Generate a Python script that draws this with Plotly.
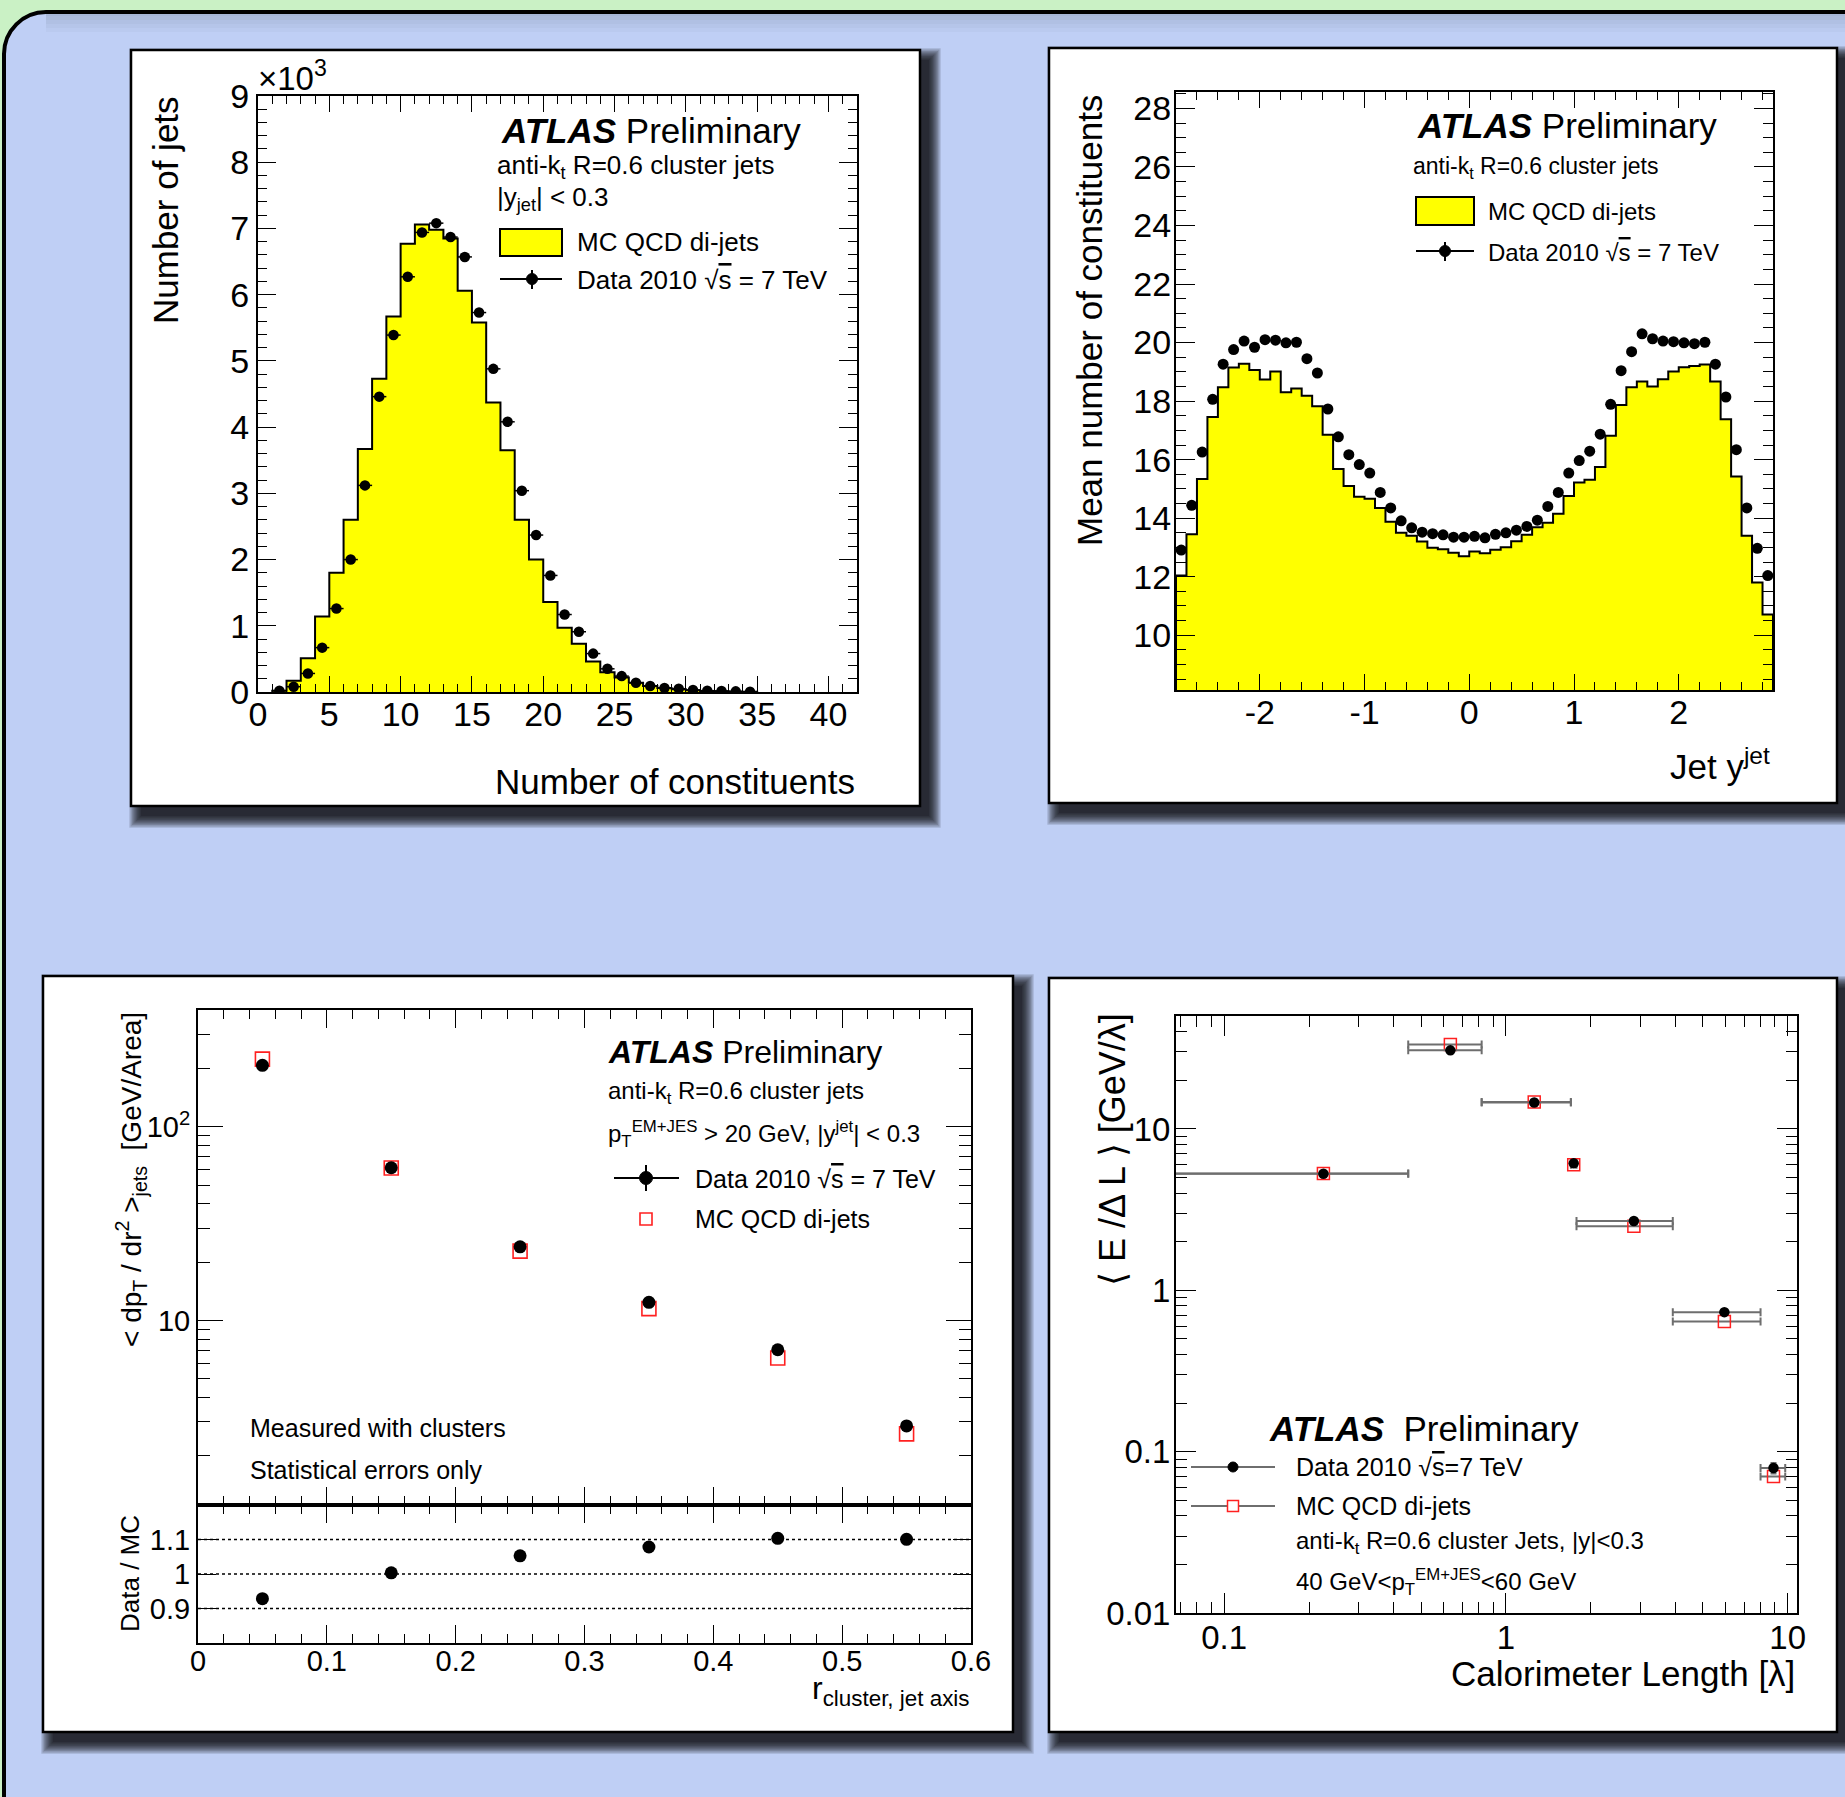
import numpy as np
import plotly.graph_objects as go

W, H = 1845, 1797
FONT = "Liberation Sans, Arial, Helvetica, sans-serif"


def px(x):
    return x / W


def py(y):
    return 1 - y / H


# ---------------- data ----------------
# (a) number of constituents per jet, |y_jet| < 0.3 (entries in units of 10^3)
nconst_bin_lo = list(range(1, 35))
nconst_mc = [0.02, 0.17, 0.51, 1.14, 1.80, 2.60, 3.67, 4.73, 5.67, 6.77, 7.06,
             6.98, 6.85, 6.06, 5.58, 4.37, 3.65, 2.60, 2.00, 1.36, 0.97, 0.73,
             0.46, 0.30, 0.22, 0.14, 0.09, 0.06, 0.04, 0.025, 0.015, 0.01,
             0.005, 0.003]
nconst_data = [0.02, 0.08, 0.28, 0.67, 1.26, 2.00, 3.12, 4.46, 5.39, 6.27, 6.94,
               7.08, 6.87, 6.57, 5.73, 4.88, 4.08, 3.04, 2.37, 1.76, 1.17, 0.91,
               0.58, 0.35, 0.24, 0.14, 0.09, 0.06, 0.05, 0.03, 0.02, 0.015,
               0.01, 0.005]

# (b) mean number of constituents vs jet rapidity (bins of 0.1 from -2.8 to 2.9)
rap_bin_lo = np.round(np.arange(-2.8, 2.85, 0.1), 2)
rap_bin_width = 0.1
rap_ticks = [-2, -1, 0, 1, 2]
rap_tick_text = ["-2", "-1", "0", "1", "2"]
meanconst_mc = [12.04, 13.45, 15.34, 17.46, 18.47, 19.15, 19.28, 19.06, 18.74,
                19.01, 18.30, 18.43, 18.18, 17.82, 16.85, 15.68, 15.10, 14.73,
                14.66, 14.35, 13.88, 13.50, 13.40, 13.20, 12.99, 12.94, 12.82,
                12.70, 12.86, 12.80, 12.92, 13.01, 13.21, 13.43, 13.69, 13.84,
                14.15, 14.76, 15.22, 15.31, 15.75, 16.82, 17.87, 18.47, 18.67,
                18.50, 18.75, 19.01, 19.16, 19.20, 19.25, 18.67, 17.38, 15.42,
                13.40, 11.80, 10.71]
meanconst_data = [12.91, 14.44, 16.26, 18.06, 19.26, 19.76, 20.05, 19.84, 20.10,
                  20.08, 19.99, 20.01, 19.45, 18.96, 17.73, 16.78, 16.17, 15.83,
                  15.54, 14.88, 14.35, 13.91, 13.67, 13.52, 13.47, 13.43, 13.35,
                  13.35, 13.38, 13.33, 13.45, 13.50, 13.59, 13.72, 13.93, 14.40,
                  14.88, 15.54, 15.97, 16.29, 16.87, 17.89, 19.04, 19.69, 20.30,
                  20.13, 20.05, 20.03, 19.99, 19.96, 20.01, 19.26, 18.14, 16.34,
                  14.35, 12.97, 12.04]

# (c) transverse momentum density vs distance from jet axis
r_centers = [0.05, 0.15, 0.25, 0.35, 0.45, 0.55]
density_data = [208.0, 61.5, 24.0, 12.4, 7.05, 2.85]
density_mc = [224.0, 61.3, 22.8, 11.5, 6.39, 2.59]
ratio_levels = [0.9, 1.0, 1.1]

# (d) energy per unit calorimeter depth
depth_edges = [0.0, 0.45, 0.82, 1.70, 1.78, 3.91, 8.01, 9.80]
edep_data = [5.28, 30.7, 14.6, 6.12, 2.69, 0.732, 0.0791]
edep_data_err = [0.05, 0.3, 0.15, 0.06, 0.03, 0.01, 0.006]
edep_mc = [5.30, 33.4, 14.7, 6.00, 2.49, 0.640, 0.0702]

# ---------------- colours ----------------
GREEN = "#CAF1C5"
BLUE = "#BFCFF5"
YELLOW = "#FFFF00"
RED = "#FF2020"
GREYBAR = "#6E6E6E"

# ---------------- plot-area boxes (pixels) ----------------
A = dict(x0=258, x1=857, y0=96, y1=692)
B = dict(x0=1176, x1=1773, y0=92, y1=690)
C = dict(x0=198, x1=971, y0=1010, y1=1505)
CR = dict(x0=198, x1=971, y0=1505, y1=1643)
D = dict(x0=1176, x1=1797, y0=1016, y1=1613)


def xdom(b):
    return [px(b["x0"]), px(b["x1"])]


def ydom(b):
    return [py(b["y1"]), py(b["y0"])]


def axis(dom, rng, anchor, size, tlen, mlen, dtick=None, mdtick=None,
         tick0=0, log=False, labels=True, tickvals=None, ticktext=None,
         standoff=0):
    ax = dict(domain=dom, range=rng, anchor=anchor, showgrid=False,
              zeroline=False, showline=True, linecolor="black", linewidth=2,
              mirror="ticks", ticks="inside", ticklen=tlen, tickwidth=1.3,
              tickcolor="black", showticklabels=labels, automargin=False,
              ticklabelstandoff=standoff,
              tickfont=dict(family=FONT, size=size, color="black"))
    if log:
        ax["type"] = "log"
    if tickvals is not None:
        ax["tickmode"] = "array"
        ax["tickvals"] = tickvals
        ax["ticktext"] = ticktext
    elif dtick is not None:
        ax["tickmode"] = "linear"
        ax["dtick"] = dtick
        ax["tick0"] = tick0
    if mdtick is not None:
        minor = dict(ticks="inside", ticklen=mlen, tickwidth=1.1,
                     tickcolor="black", showgrid=False, dtick=mdtick)
        if not log:
            minor["tick0"] = tick0
        ax["minor"] = minor
    return ax


fig = go.Figure()

# ---- (a) histogram + data ----
a_x = [nconst_bin_lo[0]] + nconst_bin_lo + [nconst_bin_lo[-1] + 1] * 2
a_y = [0] + nconst_mc + [nconst_mc[-1], 0]
fig.add_trace(go.Scatter(x=a_x, y=a_y, mode="lines", fill="tozeroy",
                         fillcolor=YELLOW,
                         line=dict(shape="hv", color="black", width=2),
                         xaxis="x", yaxis="y", hoverinfo="skip"))
fig.add_trace(go.Scatter(x=[v + 0.5 for v in nconst_bin_lo], y=nconst_data,
                         mode="markers",
                         marker=dict(color="black", size=10.5),
                         error_x=dict(type="constant", value=0.5, width=0,
                                      thickness=1.5, color="black"),
                         xaxis="x", yaxis="y"))

# ---- (b) histogram + data ----
b_lo = list(rap_bin_lo)
b_x = [b_lo[0]] + b_lo + [b_lo[-1] + rap_bin_width] * 2
b_y = [0] + meanconst_mc + [meanconst_mc[-1], 0]
fig.add_trace(go.Scatter(x=b_x, y=b_y, mode="lines", fill="tozeroy",
                         fillcolor=YELLOW,
                         line=dict(shape="hv", color="black", width=2),
                         xaxis="x2", yaxis="y2", hoverinfo="skip"))
fig.add_trace(go.Scatter(x=[v + rap_bin_width / 2 for v in b_lo],
                         y=meanconst_data, mode="markers",
                         marker=dict(color="black", size=11),
                         xaxis="x2", yaxis="y2"))

# ---- (c) density + ratio ----
fig.add_trace(go.Scatter(x=r_centers, y=density_mc, mode="markers",
                         marker=dict(symbol="square-open", color=RED, size=14,
                                     line=dict(width=1.6, color=RED)),
                         xaxis="x3", yaxis="y3"))
fig.add_trace(go.Scatter(x=r_centers, y=density_data, mode="markers",
                         marker=dict(color="black", size=13),
                         xaxis="x3", yaxis="y3"))
ratio = [d / m for d, m in zip(density_data, density_mc)]
fig.add_trace(go.Scatter(x=r_centers, y=ratio, mode="markers",
                         marker=dict(color="black", size=13),
                         xaxis="x4", yaxis="y4"))

# ---- (d) energy per depth ----
d_centers = [(lo + hi) / 2 for lo, hi in zip(depth_edges[:-1], depth_edges[1:])]
d_lo = [max(lo, 0.03) for lo in depth_edges[:-1]]
d_hi = depth_edges[1:]
d_plus = [hi - c for hi, c in zip(d_hi, d_centers)]
d_minus = [c - lo for lo, c in zip(d_lo, d_centers)]
xerr = dict(type="data", symmetric=False, array=d_plus, arrayminus=d_minus,
            color=GREYBAR, thickness=2, width=4)
fig.add_trace(go.Scatter(x=d_centers, y=edep_mc, mode="markers",
                         marker=dict(symbol="square-open", color=RED, size=12,
                                     line=dict(width=1.5, color=RED)),
                         error_x=xerr, xaxis="x5", yaxis="y5"))
fig.add_trace(go.Scatter(x=d_centers, y=edep_data, mode="markers",
                         marker=dict(color="black", size=10.5),
                         error_x=xerr,
                         error_y=dict(type="data", array=edep_data_err,
                                      color=GREYBAR, thickness=2, width=3),
                         xaxis="x5", yaxis="y5"))

# ---------------- axes ----------------
layout_axes = dict(
    xaxis=axis(xdom(A), [0, 42], "y", 34, 16, 8, dtick=5, mdtick=1,
               standoff=-9),
    yaxis=axis(ydom(A), [0, 9], "x", 34, 18, 9, dtick=1, mdtick=0.2),
    xaxis2=axis(xdom(B), [-2.8, 2.9], "y2", 34, 16, 8, mdtick=0.2,
                tickvals=rap_ticks, ticktext=rap_tick_text, standoff=-9),
    yaxis2=axis(ydom(B), [8.13, 28.56], "x2", 34, 19, 10, dtick=2, mdtick=0.5,
                standoff=-4),
    xaxis3=axis(xdom(C), [0, 0.6], "y3", 29, 18, 9, dtick=0.1, mdtick=0.02,
                labels=False),
    yaxis3=axis(ydom(C), [0.046, 2.604], "x3", 29, 25, 12, log=True,
                mdtick="D1", tickvals=[10, 100],
                ticktext=["10", "10<sup>2</sup>"]),
    xaxis4=axis(xdom(CR), [0, 0.6], "y4", 29, 18, 9, dtick=0.1, mdtick=0.02,
                standoff=-9),
    yaxis4=axis(ydom(CR), [0.8, 1.2], "x4", 29, 18, 9,
                tickvals=ratio_levels, ticktext=["0.9", "1", "1.1"]),
    xaxis5=axis(xdom(D), [-1.171, 1.033], "y5", 33, 20, 11, log=True,
                mdtick="D1", tickvals=[0.1, 1, 10],
                ticktext=["0.1", "1", "10"], standoff=-6),
    yaxis5=axis(ydom(D), [-2, 1.70], "x5", 33, 20, 11, log=True,
                mdtick="D1", tickvals=[0.01, 0.1, 1, 10],
                ticktext=["0.01", "0.1", "1", "10"], standoff=-3),
)

# ---------------- frame, panels, shadows ----------------
shapes = []


def rect(x0, y0, x1, y1, **kw):
    d = dict(type="rect", xref="paper", yref="paper", x0=px(x0), x1=px(x1),
             y0=py(y1), y1=py(y0))
    d.update(kw)
    return d


def line(x0, y0, x1, y1, **kw):
    d = dict(type="line", xref="paper", yref="paper", x0=px(x0), x1=px(x1),
             y0=py(y0), y1=py(y1))
    d.update(kw)
    return d


# rounded blue backdrop
k = 0.5523
bx, by, r = 4, 12, 42
pts = [
    f"M {px(bx)},{py(by + r)}",
    f"C {px(bx)},{py(by + r * (1 - k))} {px(bx + r * (1 - k))},{py(by)} {px(bx + r)},{py(by)}",
    f"L {px(1900)},{py(by)}",
    f"L {px(1900)},{py(1900)}",
    f"L {px(bx)},{py(1900)}",
    "Z",
]
shapes.append(dict(type="path", xref="paper", yref="paper", path=" ".join(pts),
                   fillcolor=BLUE, line=dict(color="black", width=4),
                   layer="below"))
# soft shade under the top border
for i in range(5):
    shapes.append(rect(bx + r, by + 2, 1900, by + 4 + 4 * i, fillcolor="black",
                       opacity=0.025, line=dict(width=0), layer="below"))

# drop shadows (offset down-right, blurred by stacking) and white pads
boxes = [(131, 50, 920, 806), (1049, 48, 1837, 803),
         (43, 976, 1013, 1732), (1049, 978, 1837, 1732)]
for (x0, y0, x1, y1) in boxes:
    for i in range(10):
        e = 1.3 * i
        shapes.append(rect(x0 + 10 - e, y0 + 10 - e, x1 + 9 + e, y1 + 10 + e,
                           fillcolor="black", opacity=0.14,
                           line=dict(width=0), layer="below"))
for (x0, y0, x1, y1) in boxes:
    shapes.append(rect(x0, y0, x1, y1, fillcolor="white",
                       line=dict(color="black", width=2.5), layer="below"))

# dotted reference lines in the ratio pad
for lvl in ratio_levels:
    shapes.append(dict(type="line", xref="x4 domain", yref="y4", x0=0, x1=1,
                       y0=lvl, y1=lvl, line=dict(color="black", width=1.6,
                                                 dash="dot"),
                       layer="below"))


def circle(cx, cy, rad, color="black"):
    return dict(type="circle", xref="paper", yref="paper",
                x0=px(cx - rad), x1=px(cx + rad), y0=py(cy + rad),
                y1=py(cy - rad), fillcolor=color, line=dict(color=color, width=1))


# legend symbols (a)
shapes.append(rect(500, 229, 562, 256, fillcolor=YELLOW,
                   line=dict(color="black", width=2)))
shapes.append(line(500, 279, 562, 279, line=dict(color="black", width=2)))
shapes.append(line(532, 270, 532, 289, line=dict(color="black", width=2)))
shapes.append(circle(532, 279, 5.5))
# legend symbols (b)
shapes.append(rect(1416, 197, 1474, 225, fillcolor=YELLOW,
                   line=dict(color="black", width=2)))
shapes.append(line(1416, 251, 1474, 251, line=dict(color="black", width=2)))
shapes.append(line(1445, 242, 1445, 261, line=dict(color="black", width=2)))
shapes.append(circle(1445, 251, 5.5))
# legend symbols (c)
shapes.append(line(614, 1178, 679, 1178, line=dict(color="black", width=2)))
shapes.append(line(646, 1165, 646, 1191, line=dict(color="black", width=2)))
shapes.append(circle(646, 1178, 6.5))
shapes.append(rect(640, 1213, 652, 1225, line=dict(color=RED, width=1.6)))
# legend symbols (d)
shapes.append(line(1191, 1467, 1275, 1467, line=dict(color=GREYBAR, width=2)))
shapes.append(circle(1233, 1467, 5))
shapes.append(line(1191, 1506, 1275, 1506, line=dict(color=GREYBAR, width=2)))
shapes.append(rect(1227.5, 1500.5, 1238.5, 1511.5, fillcolor="white",
                   line=dict(color=RED, width=1.5)))

# ---------------- text ----------------
annotations = []


def text(t, x, y, size, xanchor="left", angle=0):
    annotations.append(dict(text=t, x=px(x), y=py(y), xref="paper",
                            yref="paper", xanchor=xanchor, yanchor="middle",
                            showarrow=False, textangle=angle,
                            font=dict(family=FONT, size=size, color="black")))


SQRTS = "\u221a<span style='text-decoration:overline'>s</span>"

# (a)
text("\u00d710<sup>3</sup>", 256, 76, 33)
text("<b><i>ATLAS</i></b> Preliminary", 499, 130, 35)
text("anti-k<sub>t</sub> R=0.6 cluster jets", 495, 166, 26)
text("|y<sub>jet</sub>| &lt; 0.3", 495, 198, 26)
text("MC QCD di-jets", 575, 242, 26)
text(f"Data 2010 {SQRTS} = 7 TeV", 575, 280, 26)
text("Number of constituents", 857, 781, 35, xanchor="right")
text("Number of jets", 166, 210, 35, xanchor="center", angle=-90)

# (b)
text("<b><i>ATLAS</i></b> Preliminary", 1415, 126, 35)
text("anti-k<sub>t</sub> R=0.6 cluster jets", 1411, 168, 23)
text("MC QCD di-jets", 1486, 211, 24)
text(f"Data 2010 {SQRTS} = 7 TeV", 1486, 252, 24)
text("Mean number of constituents", 1090, 321, 35, xanchor="center", angle=-90)
text("Jet y<sup>jet</sup>", 1772, 764, 35, xanchor="right")

# (c)
text("<b><i>ATLAS</i></b> Preliminary", 606, 1052, 32)
text("anti-k<sub>t</sub> R=0.6 cluster jets", 606, 1092, 24)
text("p<sub>T</sub><sup>EM+JES</sup> &gt; 20 GeV, |y<sup>jet</sup>| &lt; 0.3",
     606, 1134, 24)
text(f"Data 2010 {SQRTS} = 7 TeV", 693, 1179, 25)
text("MC QCD di-jets", 693, 1219, 25)
text("Measured with clusters", 248, 1428, 25)
text("Statistical errors only", 248, 1470, 25)
text("&lt; dp<sub>T</sub> / dr<sup>2</sup> &gt;<sub>jets</sub>  [GeV/Area]",
     131, 1180, 28, xanchor="center", angle=-90)
text("Data / MC", 130, 1574, 26, xanchor="center", angle=-90)
text("r<sub>cluster, jet axis</sub>", 972, 1690, 32, xanchor="right")

# (d)
text("<b><i>ATLAS</i></b>  Preliminary", 1267, 1428, 35)
text(f"Data 2010 {SQRTS}=7 TeV", 1294, 1467, 25)
text("MC QCD di-jets", 1294, 1506, 25)
text("anti-k<sub>t</sub> R=0.6 cluster Jets, |y|&lt;0.3", 1294, 1542, 24)
text("40 GeV&lt;p<sub>T</sub><sup>EM+JES</sup>&lt;60 GeV", 1294, 1582, 24)
text("\u27e8 E /\u0394 L \u27e9 [GeV/\u03bb]", 1112, 1150, 36, xanchor="center",
     angle=-90)
text("Calorimeter Length [\u03bb]", 1797, 1673, 35, xanchor="right")

fig.update_layout(
    width=W, height=H,
    margin=dict(l=0, r=0, t=0, b=0, pad=0, autoexpand=False),
    paper_bgcolor=GREEN, plot_bgcolor="white", showlegend=False,
    font=dict(family=FONT, color="black"),
    shapes=shapes, annotations=annotations, **layout_axes,
)

fig.write_html("out.html")
